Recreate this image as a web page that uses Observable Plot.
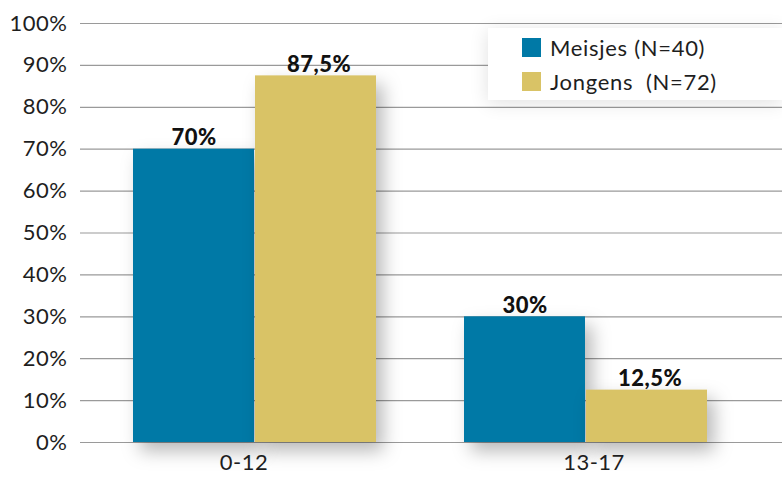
<!DOCTYPE html>
<html>
<head>
<meta charset="utf-8">
<script src="https://cdn.jsdelivr.net/npm/d3@7"></script>
<script src="https://cdn.jsdelivr.net/npm/@observablehq/plot@0.6"></script>
<style>
  body { margin: 0; background: #fff; }
  #wrap { position: relative; width: 782px; height: 479px; font-family: Lato, "Open Sans", sans-serif; color: #1e1e1e; }
  #legend { position: absolute; left: 488px; top: 28px; width: 294px; height: 72px; background: #fff;
            box-shadow: 0 3px 18px rgba(0,0,0,0.12); }
  .row { position: absolute; left: 34px; display: flex; align-items: center; font-size: 22px; letter-spacing: 0.7px; white-space: pre; }
  .sw { width: 19px; height: 19px; margin-right: 9px; }
</style>
</head>
<body>
<div id="wrap"></div>
<script>
const groups = ["0-12", "13-17"];
const seriesNames = ["Meisjes", "Jongens"];
const legendLabels = ["Meisjes (N=40)", "Jongens  (N=72)"];
const meisjes = [70, 30];
const jongens = [87.5, 12.5];
const yTicks = [0, 10, 20, 30, 40, 50, 60, 70, 80, 90, 100];
const colors = ["#0079a6", "#d9c366"];

const fmt = v => String(v).replace(".", ",") + "%";
const dataM = groups.map((g, i) => ({group: g, series: seriesNames[0], value: meisjes[i]}));
const dataJ = groups.map((g, i) => ({group: g, series: seriesNames[1], value: jongens[i]}));

const half = 122;
const chart = Plot.plot({
  width: 782,
  height: 479,
  marginLeft: 80,
  marginRight: 0,
  marginTop: 23,
  marginBottom: 37,
  style: {fontFamily: "Lato, 'Open Sans', sans-serif", fontSize: "22px", color: "#1e1e1e", background: "transparent", letterSpacing: "0.5px"},
  x: {domain: groups, range: [80, 760], paddingInner: 0.265, paddingOuter: 0.157},
  y: {domain: [0, 100]},
  marks: [
    Plot.ruleY(yTicks, {stroke: "#9a9a9a", strokeWidth: 1.2}),
    Plot.barY(dataM, {x: "group", y: "value", fill: colors[0], insetRight: half}),
    Plot.barY(dataJ, {x: "group", y: "value", fill: colors[1], insetLeft: half}),
    Plot.text(dataM, {x: "group", y: "value", text: d => fmt(d.value), dx: -half / 2, dy: -4, lineAnchor: "bottom", fontWeight: 900, fontSize: 22, fill: "#111"}),
    Plot.text(dataJ, {x: "group", y: "value", text: d => fmt(d.value), dx: half / 2 + 3, dy: -4, lineAnchor: "bottom", fontWeight: 900, fontSize: 22, fill: "#111"}),
    Plot.axisY({ticks: yTicks, tickFormat: d => d + "%", tickSize: 0, tickPadding: 13, fontSize: 22, label: null}),
    Plot.axisX({ticks: [groups[0]], tickSize: 0, tickPadding: 12, dx: -11, fontSize: 22, label: null}),
    Plot.axisX({ticks: [groups[1]], tickSize: 0, tickPadding: 12, dx: 8, fontSize: 22, label: null})
  ]
});
chart.querySelectorAll('g[aria-label="bar"]').forEach(g => {
  g.style.filter = "drop-shadow(7px 9px 9px rgba(0,0,0,0.28))";
});

const wrap = document.getElementById("wrap");
wrap.appendChild(chart);
const legend = document.createElement("div");
legend.id = "legend";
legendLabels.forEach((lab, i) => {
  const row = document.createElement("div");
  row.className = "row";
  row.style.top = (6 + i * 34) + "px";
  const sw = document.createElement("div");
  sw.className = "sw";
  sw.style.background = colors[i];
  const t = document.createElement("span");
  t.textContent = lab;
  row.appendChild(sw);
  row.appendChild(t);
  legend.appendChild(row);
});
wrap.appendChild(legend);
</script>
</body>
</html>
